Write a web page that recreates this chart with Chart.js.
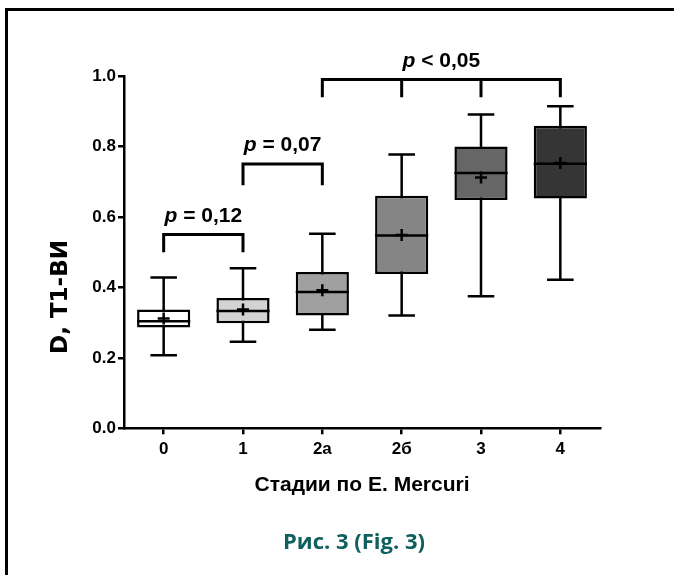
<!DOCTYPE html>
<html lang="ru">
<head>
  <meta charset="UTF-8">
  <title>Стадии по E. Mercuri</title>
  <script src="https://cdn.jsdelivr.net/npm/chart.js"></script>
  <style>
    html, body { margin: 0; padding: 0; background: #fff; }
    #wrap { position: relative; width: 674px; height: 575px; overflow: hidden; }
    #frame { position: absolute; left: 5px; top: 8px; right: -10px; bottom: -10px;
             border-left: 3px solid #000; border-top: 3px solid #000; }
    #chart { position: absolute; left: 0; top: 0; }
    #caption { position: absolute; left: 0; width: 708px; top: 525px; text-align: center;
               font-family: "Open Sans", sans-serif; font-weight: 700; font-size: 22px;
               color: #0f605e; }
  </style>
</head>
<body>
  <div id="wrap">
    <div id="frame"></div>
    <canvas id="chart" width="674" height="575"></canvas>
    <div id="caption">Рис. 3 (Fig. 3)</div>
  </div>

  <script>
    const stages = ['0', '1', '2а', '2б', '3', '4'];
    const whiskerMin = [0.207, 0.246, 0.280, 0.320, 0.375, 0.422];
    const q1 = [0.286, 0.298, 0.320, 0.438, 0.648, 0.652];
    const medians = [0.304, 0.333, 0.387, 0.547, 0.725, 0.751];
    const q3 = [0.337, 0.370, 0.444, 0.660, 0.800, 0.859];
    const whiskerMax = [0.428, 0.454, 0.552, 0.777, 0.891, 0.914];
    const means = [0.312, 0.337, 0.392, 0.549, 0.712, 0.753];
    const boxColors = ['#ffffff', '#d3d3d3', '#a0a0a0', '#858585', '#666666', '#353535'];

    // p-value brackets: categories joined, height of the bar, leg length, text
    const brackets = [
      { legs: [0, 1], y: 0.55, drop: 0.05, text: '= 0,12' },
      { legs: [1, 2], y: 0.75, drop: 0.06, text: '= 0,07' },
      { legs: [2, 3, 4, 5], y: 0.99, drop: 0.05, text: '< 0,05' }
    ];

    const font = '"Liberation Sans", Arial, sans-serif';

    // whiskers go under the boxes, medians on top of them
    const boxPlot = {
      id: 'boxPlot',
      beforeDatasetsDraw(chart) {
        const { ctx, scales: { y } } = chart;
        const bars = chart.getDatasetMeta(0).data;
        ctx.save();
        ctx.strokeStyle = '#000';
        ctx.lineWidth = 2.5;
        bars.forEach((bar, i) => {
          const cap = bar.width / 4;
          const top = y.getPixelForValue(whiskerMax[i]);
          const bot = y.getPixelForValue(whiskerMin[i]);
          ctx.beginPath();
          ctx.moveTo(bar.x, top); ctx.lineTo(bar.x, bot);
          ctx.moveTo(bar.x - cap, top); ctx.lineTo(bar.x + cap, top);
          ctx.moveTo(bar.x - cap, bot); ctx.lineTo(bar.x + cap, bot);
          ctx.stroke();
        });
        ctx.restore();
      },
      afterDatasetsDraw(chart) {
        const { ctx, scales: { y } } = chart;
        const bars = chart.getDatasetMeta(0).data;
        ctx.save();
        ctx.strokeStyle = '#000';
        ctx.lineWidth = 2.5;
        bars.forEach((bar, i) => {
          const m = y.getPixelForValue(medians[i]);
          ctx.beginPath();
          ctx.moveTo(bar.x - bar.width / 2, m);
          ctx.lineTo(bar.x + bar.width / 2, m);
          ctx.stroke();
        });
        ctx.restore();
      },
      afterDraw(chart) {
        const { ctx, scales: { x, y } } = chart;
        ctx.save();
        ctx.strokeStyle = '#000';
        ctx.fillStyle = '#000';
        ctx.lineWidth = 3;
        brackets.forEach(b => {
          const xs = b.legs.map(i => x.getPixelForValue(i));
          const yt = y.getPixelForValue(b.y);
          const yb = y.getPixelForValue(b.y - b.drop);
          ctx.beginPath();
          ctx.moveTo(xs[0], yb); ctx.lineTo(xs[0], yt);
          ctx.lineTo(xs[xs.length - 1], yt); ctx.lineTo(xs[xs.length - 1], yb);
          xs.slice(1, -1).forEach(px => { ctx.moveTo(px, yt); ctx.lineTo(px, yb); });
          ctx.stroke();

          // "p" in italic, the rest upright
          const cx = (xs[0] + xs[xs.length - 1]) / 2;
          const pFont = 'italic bold 21px ' + font;
          const restFont = 'bold 21px ' + font;
          ctx.font = pFont;
          const wp = ctx.measureText('p ').width;
          ctx.font = restFont;
          const wr = ctx.measureText(b.text).width;
          const x0 = cx - (wp + wr) / 2;
          ctx.textBaseline = 'alphabetic';
          ctx.textAlign = 'left';
          ctx.font = pFont;
          ctx.fillText('p', x0, yt - 13);
          ctx.font = restFont;
          ctx.fillText(b.text, x0 + wp, yt - 13);
        });

        // y axis title sits below the axis middle
        ctx.translate(61, 297);
        ctx.rotate(-Math.PI / 2);
        ctx.font = 'bold 23px "DejaVu Sans", sans-serif';
        ctx.textAlign = 'center';
        ctx.textBaseline = 'middle';
        ctx.fillText('D, T1-ВИ', 0, 0);
        ctx.restore();
      }
    };

    new Chart(document.getElementById('chart'), {
      type: 'bar',
      data: {
        labels: stages,
        datasets: [
          {
            label: 'Q1–Q3',
            data: q1.map((v, i) => [v, q3[i]]),
            backgroundColor: boxColors,
            borderColor: '#000',
            borderWidth: 2.5,
            borderSkipped: false,
            barPercentage: 0.67,
            categoryPercentage: 1,
            order: 2
          },
          {
            type: 'line',
            label: 'Среднее',
            data: means,
            showLine: false,
            pointStyle: 'cross',
            pointRadius: 6,
            pointBorderWidth: 2.5,
            borderColor: '#000',
            backgroundColor: '#000',
            order: 1
          }
        ]
      },
      options: {
        responsive: false,
        animation: false,
        events: [],
        layout: { padding: { left: 0, right: 74, top: 76, bottom: 0 } },
        plugins: { legend: { display: false }, tooltip: { enabled: false } },
        scales: {
          x: {
            offset: true,
            afterFit(scale) { scale.height = 146.7; },
            grid: { drawOnChartArea: false, offset: false, color: '#000', lineWidth: 2.5, tickLength: 6 },
            border: { color: '#000', width: 2.5 },
            ticks: { color: '#000', padding: 5, font: { family: font, size: 17, weight: 'bold' } },
            title: {
              display: true,
              text: 'Стадии по E. Mercuri',
              color: '#000',
              font: { family: font, size: 21, weight: 'bold' },
              padding: { top: 0, bottom: 77 }
            }
          },
          y: {
            min: 0,
            max: 1,
            afterFit(scale) { scale.width = 124; },
            grid: { drawOnChartArea: false, color: '#000', lineWidth: 2.5, tickLength: 6 },
            border: { color: '#000', width: 2.5 },
            ticks: {
              stepSize: 0.2,
              color: '#000',
              padding: 2,
              font: { family: font, size: 17, weight: 'bold' },
              callback: v => v.toFixed(1)
            }
          }
        }
      },
      plugins: [boxPlot]
    });
  </script>
</body>
</html>
